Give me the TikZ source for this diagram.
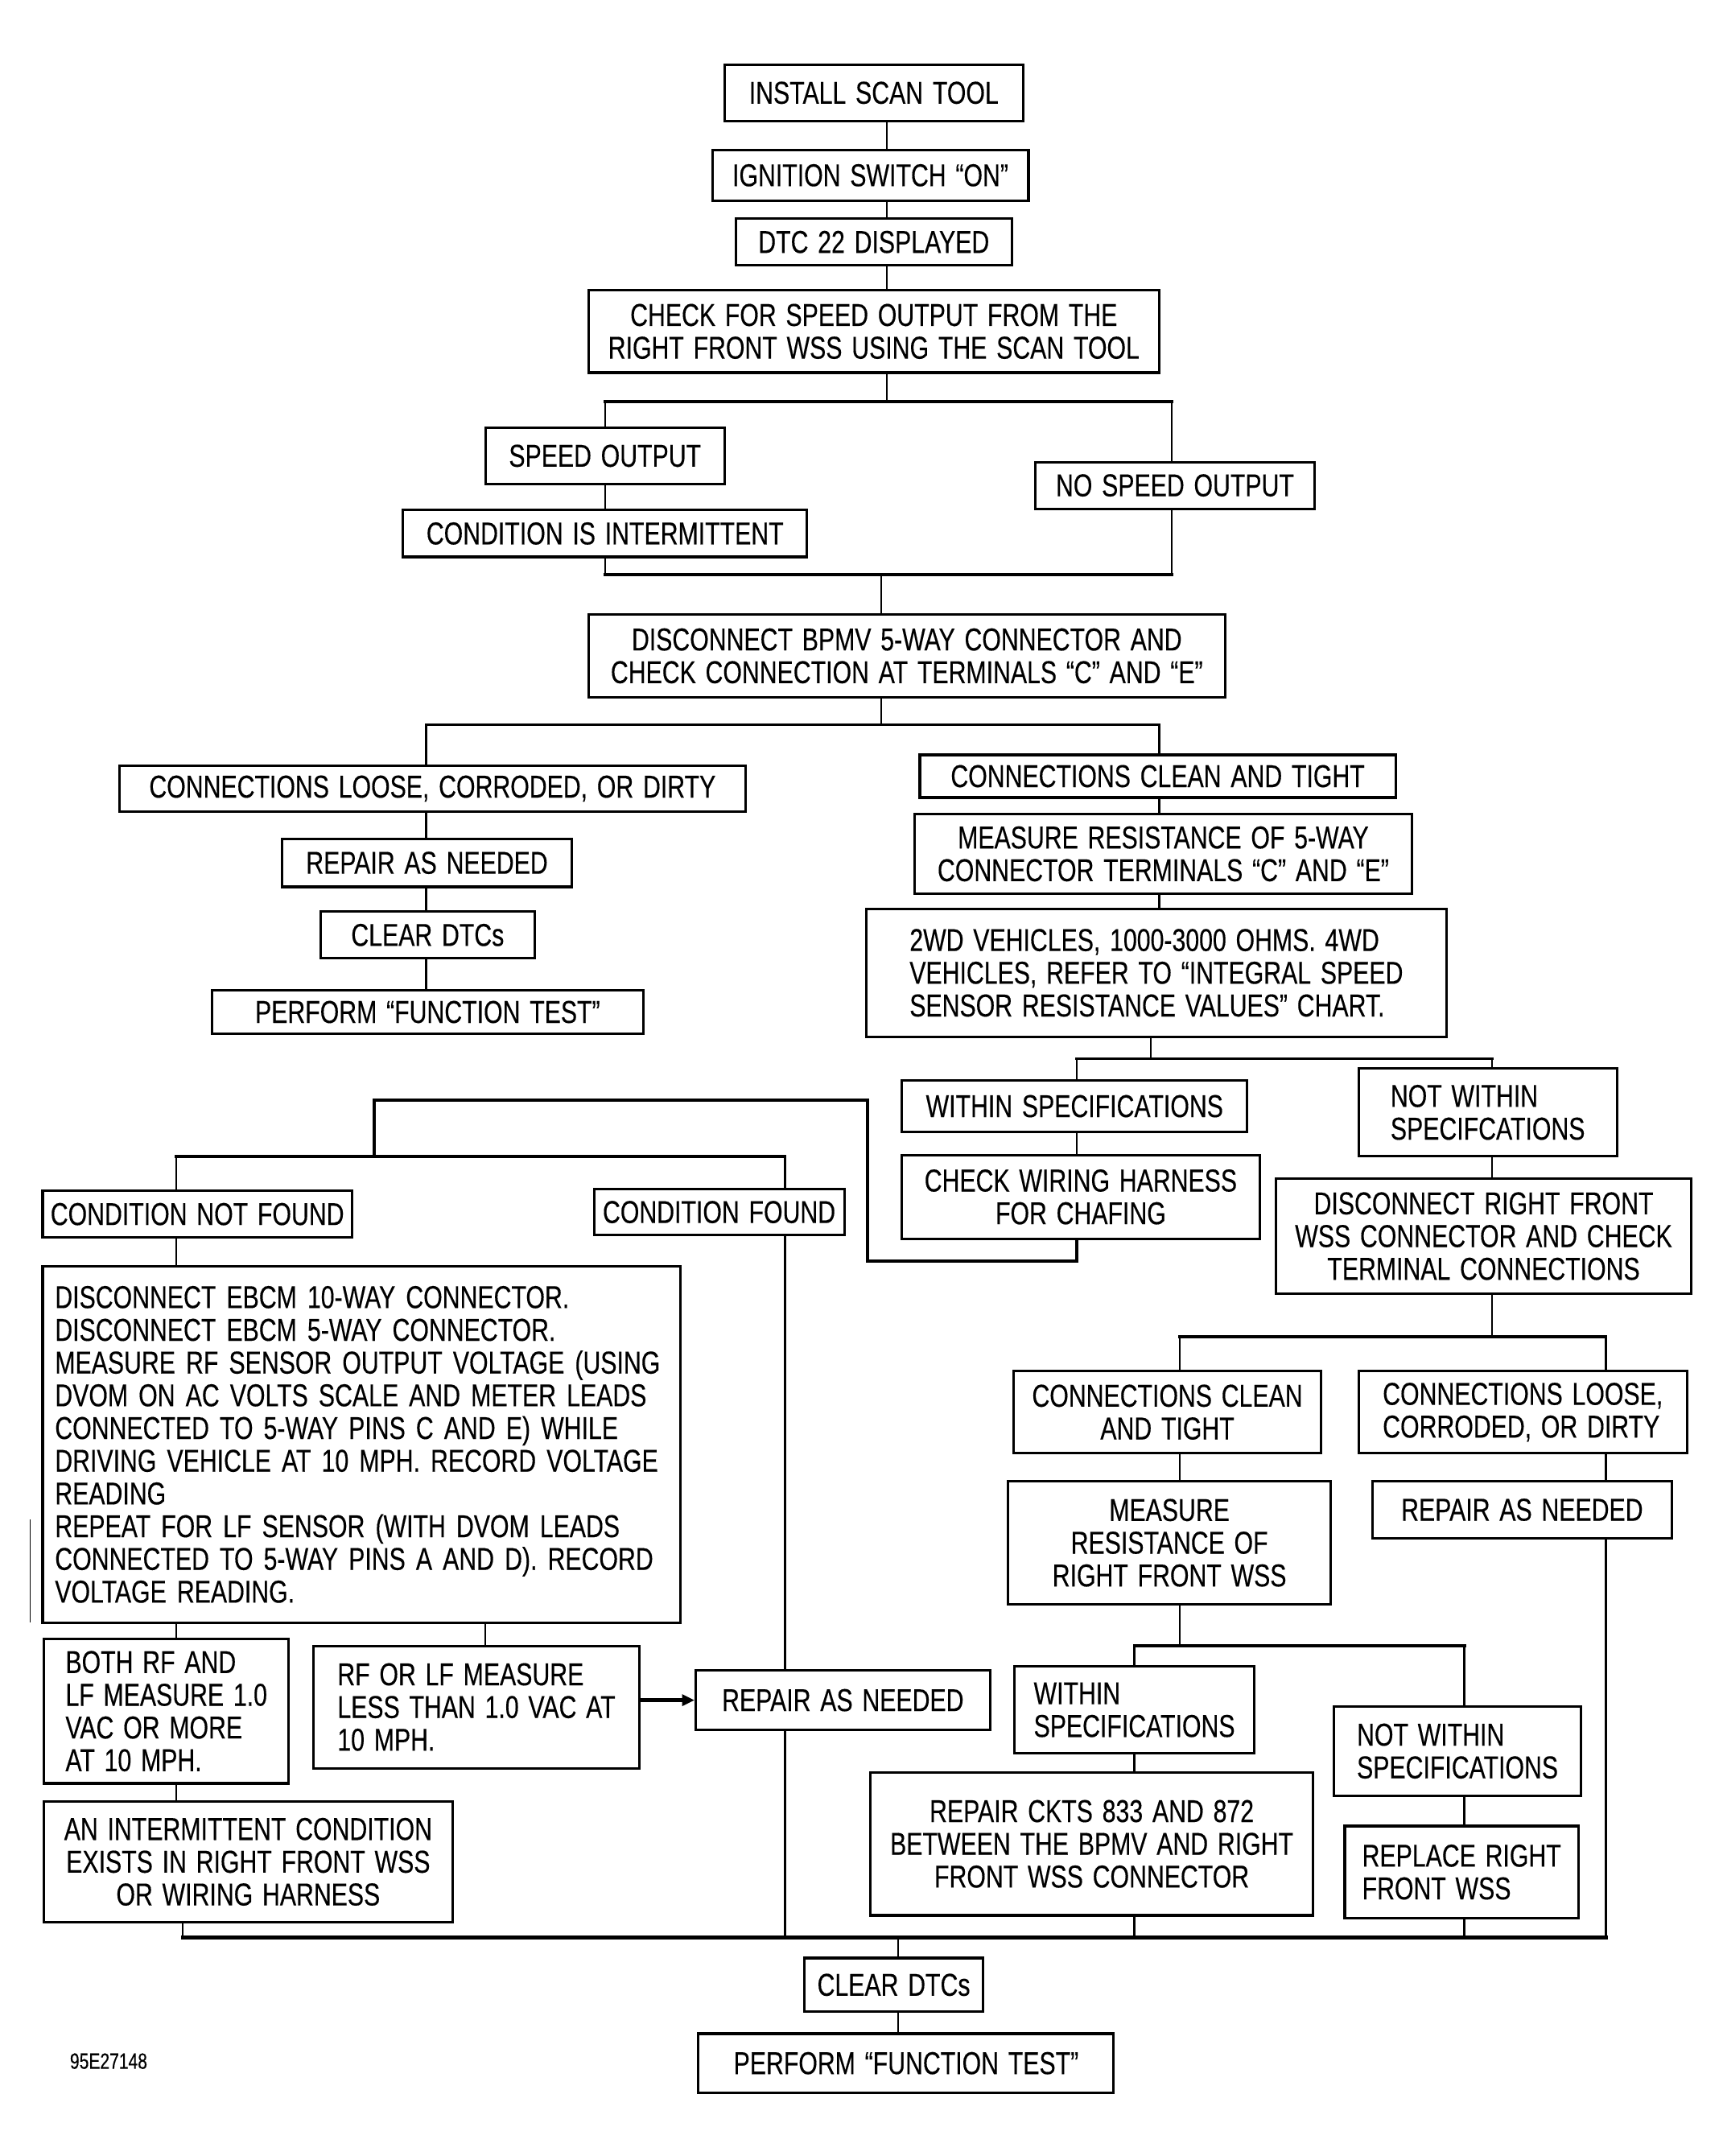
\documentclass[tikz,border=0pt]{standalone}
\usepackage{fontspec}
\setmainfont{Liberation Sans}[FakeStretch=0.77, WordSpace=1.4, FakeBold=0.3]
\usetikzlibrary{arrows.meta}
\tikzset{
  box/.style={draw, line width=1.8pt, inner sep=0pt, align=center,
    font=\fontsize{23}{23.8}\selectfont},
  lbox/.style={box, align=left},
  conn/.style={line width=1.4pt},
  bar/.style={line width=2.2pt, line cap=rect},
  bus/.style={line width=2.8pt, line cap=rect},
  arrowline/.style={line width=2.6pt, -{Triangle[length=9pt,width=8pt]}},
}
\begin{document}
\begin{tikzpicture}[x=1pt,y=-1pt]
\useasboundingbox (0,0) rectangle (1253,1568);
\fill[white] (0,0) rectangle (1253,1568);

% ---------- nodes ----------
\node[box, minimum width=217, minimum height=41] (n1) at (635.5,67.5) {INSTALL SCAN TOOL};
\node[box, minimum width=230, minimum height=37] (n2) at (633,127.5) {IGNITION SWITCH “ON”};
\node[box, minimum width=201, minimum height=34] (n3) at (635.5,176) {DTC 22 DISPLAYED};
\node[box, minimum width=415, minimum height=60] (n4) at (635.5,241) {CHECK FOR SPEED OUTPUT FROM THE\\RIGHT FRONT WSS USING THE SCAN TOOL};
\node[box, minimum width=174, minimum height=41] (n5) at (440,331.5) {SPEED OUTPUT};
\node[box, minimum width=294, minimum height=34] (n6) at (440,388) {CONDITION IS INTERMITTENT};
\node[box, minimum width=203, minimum height=34] (n7) at (854.5,353) {NO SPEED OUTPUT};
\node[box, minimum width=463, minimum height=60] (n8) at (659.5,477) {DISCONNECT BPMV 5-WAY CONNECTOR AND\\CHECK CONNECTION AT TERMINALS “C” AND “E”};
\node[box, minimum width=455, minimum height=33] (n9) at (314.5,573.5) {CONNECTIONS LOOSE, CORRODED, OR DIRTY};
\node[box, minimum width=211, minimum height=35] (n10) at (310.5,627.5) {REPAIR AS NEEDED};
\node[box, minimum width=156, minimum height=34] (n11) at (311,680) {CLEAR DTCs};
\node[box, minimum width=314, minimum height=32] (n12) at (311,736) {PERFORM “FUNCTION TEST”};
\node[box, minimum width=346, minimum height=31] (n13) at (842,564.5) {CONNECTIONS CLEAN AND TIGHT};
\node[box, minimum width=362, minimum height=58] (n14) at (846,621) {MEASURE RESISTANCE OF 5-WAY\\CONNECTOR TERMINALS “C” AND “E”};
\node[lbox, minimum width=422, minimum height=93] (n15) at (841,707.5) {2WD VEHICLES, 1000-3000 OHMS. 4WD\\VEHICLES, REFER TO “INTEGRAL SPEED\\SENSOR RESISTANCE VALUES” CHART.};
\node[box, minimum width=251, minimum height=37] (n16) at (781.5,804.5) {WITHIN SPECIFICATIONS};
\node[box, minimum width=260, minimum height=61] (n17) at (786,870.5) {CHECK WIRING HARNESS\\FOR CHAFING};
\node[box, minimum width=225, minimum height=34] (n18) at (143.5,883) {CONDITION NOT FOUND};
\node[box, minimum width=182, minimum height=33] (n19) at (523,881.5) {CONDITION FOUND};
\node[lbox, inner xsep=9pt, text width=446pt, minimum width=464, minimum height=259] (n20) at (263,1050.5) {DISCONNECT EBCM 10-WAY CONNECTOR.\\DISCONNECT EBCM 5-WAY CONNECTOR.\\MEASURE RF SENSOR OUTPUT VOLTAGE (USING\\DVOM ON AC VOLTS SCALE AND METER LEADS\\CONNECTED TO 5-WAY PINS C AND E) WHILE\\DRIVING VEHICLE AT 10 MPH. RECORD VOLTAGE\\READING\\REPEAT FOR LF SENSOR (WITH DVOM LEADS\\CONNECTED TO 5-WAY PINS A AND D). RECORD\\VOLTAGE READING.};
\node[lbox, minimum width=178, minimum height=105] (n21) at (121,1244.5) {BOTH RF AND\\LF MEASURE 1.0\\VAC OR MORE\\AT 10 MPH.};
\node[lbox, minimum width=237, minimum height=89] (n22) at (346.5,1241.5) {RF OR LF MEASURE\\LESS THAN 1.0 VAC AT\\10 MPH.};
\node[box, minimum width=214, minimum height=43] (n23) at (613,1236.5) {REPAIR AS NEEDED};
\node[box, minimum width=297, minimum height=88] (n24) at (180.5,1354) {AN INTERMITTENT CONDITION\\EXISTS IN RIGHT FRONT WSS\\OR WIRING HARNESS};
\node[box, minimum width=130, minimum height=39] (n25) at (650,1443.5) {CLEAR DTCs};
\node[box, minimum width=302, minimum height=43] (n26) at (659,1500.5) {PERFORM “FUNCTION TEST”};
\node[lbox, minimum width=188, minimum height=64] (n27) at (1082,809) {NOT WITHIN\\SPECIFCATIONS};
\node[box, minimum width=302, minimum height=84] (n28) at (1079,899) {DISCONNECT RIGHT FRONT\\WSS CONNECTOR AND CHECK\\TERMINAL CONNECTIONS};
\node[box, minimum width=224, minimum height=60] (n29) at (849,1027) {CONNECTIONS CLEAN\\AND TIGHT};
\node[lbox, minimum width=239, minimum height=60] (n30) at (1107.5,1027) {CONNECTIONS LOOSE,\\CORRODED, OR DIRTY};
\node[box, minimum width=235, minimum height=90] (n31) at (850.5,1122) {MEASURE\\RESISTANCE OF\\RIGHT FRONT WSS};
\node[box, minimum width=218, minimum height=42] (n32) at (1107,1098) {REPAIR AS NEEDED};
\node[lbox, minimum width=174, minimum height=63] (n33) at (825,1243.5) {WITHIN\\SPECIFICATIONS};
\node[lbox, minimum width=180, minimum height=65] (n34) at (1060,1273.5) {NOT WITHIN\\SPECIFICATIONS};
\node[box, minimum width=322, minimum height=104] (n35) at (794,1341) {REPAIR CKTS 833 AND 872\\BETWEEN THE BPMV AND RIGHT\\FRONT WSS CONNECTOR};
\node[lbox, minimum width=170, minimum height=67] (n36) at (1063,1361.5) {REPLACE RIGHT\\FRONT WSS};
\node[font=\fontsize{16}{16}\selectfont, inner sep=0pt] (lbl) at (79,1499) {95E27148};

% ---------- junction coordinates ----------
\coordinate (sp1) at (645,292);
\coordinate (b1l) at (440,292);
\coordinate (b1r) at (852,292);
\coordinate (b2l) at (440,418);
\coordinate (b2r) at (852,418);
\coordinate (sp2) at (641,418);
\coordinate (sp3) at (641,527);
\coordinate (b3l) at (310,527);
\coordinate (b3r) at (843,527);
\coordinate (sp4) at (837,770);
\coordinate (b4l) at (783,770);
\coordinate (b4r) at (1085,770);
\coordinate (lpA) at (631,917);
\coordinate (lpB) at (272,800);
\coordinate (b5m) at (272,841);
\coordinate (b5l) at (128,841);
\coordinate (b5r) at (571,841);
\coordinate (c353) at (353,1180);
\coordinate (sp6) at (1085,972);
\coordinate (b6l) at (858,972);
\coordinate (b6r) at (1168,972);
\coordinate (sp7) at (858,1197);
\coordinate (b7l) at (825,1197);
\coordinate (b7r) at (1065,1197);
\coordinate (busL) at (133,1409);
\coordinate (busR) at (1168,1409);
\coordinate (sp8) at (653,1409);
\coordinate (artT) at (22,1105);
\coordinate (artB) at (22,1180);

% ---------- connectors ----------
\draw[conn] (n1.south -| sp1) -- (n2.north -| sp1);
\draw[conn] (n2.south -| sp1) -- (n3.north -| sp1);
\draw[conn] (n3.south -| sp1) -- (n4.north -| sp1);
\draw[conn] (n4.south -| sp1) -- (sp1);
\draw[bar] (b1l) -- (b1r);
\draw[conn] (b1l) -- (n5.north -| b1l);
\draw[conn] (n5.south -| b1l) -- (n6.north -| b1l);
\draw[conn] (n6.south -| b1l) -- (b2l);
\draw[conn] (b1r) -- (n7.north -| b1r);
\draw[conn] (n7.south -| b1r) -- (b2r);
\draw[bar] (b2l) -- (b2r);
\draw[conn] (sp2) -- (n8.north -| sp2);
\draw[conn] (n8.south -| sp2) -- (sp3);
\draw[bar] (b3l) -- (b3r);
\draw[conn] (b3l) -- (n9.north -| b3l);
\draw[conn] (n9.south -| b3l) -- (n10.north -| b3l);
\draw[conn] (n10.south -| b3l) -- (n11.north -| b3l);
\draw[conn] (n11.south -| b3l) -- (n12.north -| b3l);
\draw[conn] (b3r) -- (n13.north -| b3r);
\draw[conn] (n13.south -| b3r) -- (n14.north -| b3r);
\draw[conn] (n14.south -| b3r) -- (n15.north -| b3r);
\draw[conn] (n15.south -| sp4) -- (sp4);
\draw[bar] (b4l) -- (b4r);
\draw[conn] (b4l) -- (n16.north -| b4l);
\draw[conn] (n16.south -| b4l) -- (n17.north -| b4l);
\draw[bar, line join=miter] (n17.south -| b4l) |- (lpA) |- (lpB) -- (b5m);
\draw[bar] (b5l) -- (b5r);
\draw[conn] (b5l) -- (n18.north -| b5l);
\draw[conn] (n18.south -| b5l) -- (n20.north -| b5l);
\draw[conn] (b5r) -- (n19.north -| b5r);
\draw[conn] (n19.south -| b5r) -- (n23.north -| b5r);
\draw[conn] (n20.south -| b5l) -- (n21.north -| b5l);
\draw[conn] (n20.south -| c353) -- (n22.north -| c353);
\draw[conn] (n21.south -| b5l) -- (n24.north -| b5l);
\draw[arrowline] (n22.east |- n23.west) -- (n23.west);
\draw[conn] (b4r) -- (n27.north -| b4r);
\draw[conn] (n27.south -| b4r) -- (n28.north -| b4r);
\draw[conn] (n28.south -| sp6) -- (sp6);
\draw[bar] (b6l) -- (b6r);
\draw[conn] (b6l) -- (n29.north -| b6l);
\draw[conn] (n29.south -| b6l) -- (n31.north -| b6l);
\draw[conn] (n31.south -| sp7) -- (sp7);
\draw[bar] (b7l) -- (b7r);
\draw[conn] (b6r) -- (n30.north -| b6r);
\draw[conn] (n30.south -| b6r) -- (n32.north -| b6r);
\draw[conn] (n32.south -| b6r) -- (busR);
\draw[conn] (b7l) -- (n33.north -| b7l);
\draw[conn] (n33.south -| b7l) -- (n35.north -| b7l);
\draw[conn] (n35.south -| b7l) -- (b7l |- busL);
\draw[conn] (b7r) -- (n34.north -| b7r);
\draw[conn] (n34.south -| b7r) -- (n36.north -| b7r);
\draw[conn] (n36.south -| b7r) -- (b7r |- busL);
\draw[conn] (n23.south -| b5r) -- (b5r |- busL);
\draw[conn] (n24.south -| busL) -- (busL);
\draw[bus] (busL) -- (busR);
\draw[conn] (sp8) -- (n25.north -| sp8);
\draw[conn] (n25.south -| sp8) -- (n26.north -| sp8);
\draw[line width=1pt] (artT) -- (artB);
\end{tikzpicture}
\end{document}
